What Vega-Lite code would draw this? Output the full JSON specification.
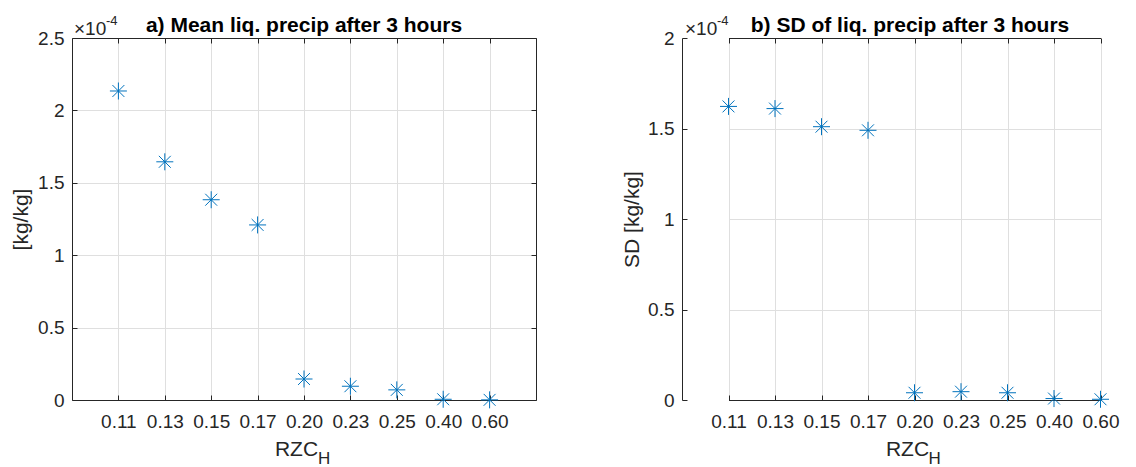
{
  "$schema": "https://vega.github.io/schema/vega-lite/v6.json",
  "background": "white",
  "padding": {"left": 10, "top": 15, "right": 0, "bottom": 0},
  "datasets": {
    "precip": [
      {"rzc": "0.11", "mean": 0.0002134, "sd": 0.0001622},
      {"rzc": "0.13", "mean": 0.0001645, "sd": 0.0001610},
      {"rzc": "0.15", "mean": 0.0001383, "sd": 0.0001510},
      {"rzc": "0.17", "mean": 0.0001209, "sd": 0.0001490},
      {"rzc": "0.20", "mean": 0.0000145, "sd": 0.0000040},
      {"rzc": "0.23", "mean": 0.0000095, "sd": 0.0000046},
      {"rzc": "0.25", "mean": 0.0000070, "sd": 0.0000040},
      {"rzc": "0.40", "mean": 0.0000005, "sd": 0.0000008},
      {"rzc": "0.60", "mean": 0.0000001, "sd": 0.0000004}
    ],
    "exponent": [{"base": "×10", "power": "-4"}],
    "subscript": [{"label": "H"}]
  },
  "hconcat": [
    {
      "width": 464,
      "height": 362,
      "title": {"text": "a) Mean liq. precip after 3 hours"},
      "resolve": {"axis": {"x": "independent", "y": "independent"}},
      "layer": [
        {
          "data": {"name": "precip"},
          "mark": {"type": "point", "shape": "M0,-1L0,1M-1,0L1,0M-0.7,-0.7L0.7,0.7M-0.7,0.7L0.7,-0.7", "filled": false, "size": 289, "strokeWidth": 1, "color": "#0072BD", "opacity": 1},
          "encoding": {
            "x": {"field": "rzc", "type": "ordinal", "sort": null, "scale": {"type": "point", "padding": 1},
                  "axis": {"orient": "bottom", "title": "RZC", "labelAngle": 0, "labelPadding": 17, "grid": true, "titleBaseline": "alphabetic", "titleX": 224, "titleY": 55}},
            "y": {"field": "mean", "type": "quantitative", "scale": {"domain": [0, 0.00025], "nice": false},
                  "axis": {"orient": "left", "title": "[kg/kg]", "grid": true, "labelPadding": 13, "values": [0, 0.00005, 0.0001, 0.00015, 0.0002, 0.00025], "labelExpr": "format(datum.value * 10000, '~g')", "titleX": -41, "titleBaseline": "bottom"}}
          }
        },
        {
          "data": {"name": "exponent"},
          "mark": {"type": "text", "align": "left", "baseline": "alphabetic", "dx": -44.4, "dy": -3, "fontSize": 19, "color": "#262626"},
          "encoding": {
            "text": {"field": "base"},
            "x": {"datum": "0.11", "type": "ordinal", "axis": {"orient": "top", "labels": false, "grid": false, "title": null}},
            "y": {"datum": 0.00025, "type": "quantitative", "axis": {"orient": "right", "labels": false, "grid": false, "title": null, "values": [0, 0.00005, 0.0001, 0.00015, 0.0002, 0.00025]}}
          }
        },
        {
          "data": {"name": "exponent"},
          "mark": {"type": "text", "align": "left", "baseline": "alphabetic", "dx": -12.4, "dy": -13, "fontSize": 13, "color": "#262626"},
          "encoding": {
            "text": {"field": "power"},
            "x": {"datum": "0.11", "type": "ordinal", "axis": null},
            "y": {"datum": 0.00025, "type": "quantitative", "axis": null}
          }
        },
        {
          "data": {"name": "subscript"},
          "mark": {"type": "text", "align": "left", "baseline": "alphabetic", "dx": 14, "dy": 64, "fontSize": 17, "color": "#262626"},
          "encoding": {
            "text": {"field": "label"},
            "x": {"datum": "0.20", "type": "ordinal", "axis": null},
            "y": {"datum": 0, "type": "quantitative", "axis": null}
          }
        }
      ]
    },
    {
      "width": 456,
      "height": 362,
      "title": {"text": "b) SD of liq. precip after 3 hours"},
      "resolve": {"axis": {"x": "independent", "y": "independent"}},
      "layer": [
        {
          "data": {"name": "precip"},
          "mark": {"type": "point", "shape": "M0,-1L0,1M-1,0L1,0M-0.7,-0.7L0.7,0.7M-0.7,0.7L0.7,-0.7", "filled": false, "size": 289, "strokeWidth": 1, "color": "#0072BD", "opacity": 1},
          "encoding": {
            "x": {"field": "rzc", "type": "ordinal", "sort": null, "scale": {"type": "point", "padding": 0, "range": [46.5, 418.5]},
                  "axis": {"orient": "bottom", "title": "RZC", "labelAngle": 0, "labelPadding": 17, "grid": true, "titleBaseline": "alphabetic", "titleX": 225, "titleY": 55}},
            "y": {"field": "sd", "type": "quantitative", "scale": {"domain": [0, 0.0002], "nice": false},
                  "axis": {"orient": "left", "title": "SD [kg/kg]", "grid": true, "labelPadding": 13, "values": [0, 0.00005, 0.0001, 0.00015, 0.0002], "labelExpr": "format(datum.value * 10000, '~g')", "titleX": -40, "titleBaseline": "bottom"}}
          }
        },
        {
          "data": {"name": "exponent"},
          "mark": {"type": "text", "align": "left", "baseline": "alphabetic", "dx": -43.5, "dy": -3, "fontSize": 19, "color": "#262626"},
          "encoding": {
            "text": {"field": "base"},
            "x": {"datum": "0.11", "type": "ordinal", "axis": {"orient": "top", "labels": false, "grid": false, "title": null}},
            "y": {"datum": 0.0002, "type": "quantitative", "axis": null}
          }
        },
        {
          "data": {"name": "exponent"},
          "mark": {"type": "text", "align": "left", "baseline": "alphabetic", "dx": -11.5, "dy": -13, "fontSize": 13, "color": "#262626"},
          "encoding": {
            "text": {"field": "power"},
            "x": {"datum": "0.11", "type": "ordinal", "axis": null},
            "y": {"datum": 0.0002, "type": "quantitative", "axis": null}
          }
        },
        {
          "data": {"name": "subscript"},
          "mark": {"type": "text", "align": "left", "baseline": "alphabetic", "dx": 14, "dy": 64, "fontSize": 17, "color": "#262626"},
          "encoding": {
            "text": {"field": "label"},
            "x": {"datum": "0.20", "type": "ordinal", "axis": null},
            "y": {"datum": 0, "type": "quantitative", "axis": null}
          }
        }
      ]
    }
  ],
  "spacing": 146,
  "bounds": "flush",
  "config": {
    "font": "Liberation Sans",
    "view": {"stroke": null},
    "axis": {
      "domainColor": "#262626", "domainWidth": 1,
      "tickColor": "#262626", "tickWidth": 1, "tickSize": -5,
      "labelColor": "#262626", "labelFont": "Liberation Sans", "labelFontSize": 19,
      "titleColor": "#262626", "titleFont": "Liberation Sans", "titleFontSize": 21, "titleFontWeight": "normal",
      "gridColor": "#dfdfdf", "gridWidth": 1
    },
    "title": {"font": "Liberation Sans", "fontSize": 21, "fontWeight": "bold", "color": "#000000", "anchor": "middle", "baseline": "alphabetic", "offset": -21}
  }
}
